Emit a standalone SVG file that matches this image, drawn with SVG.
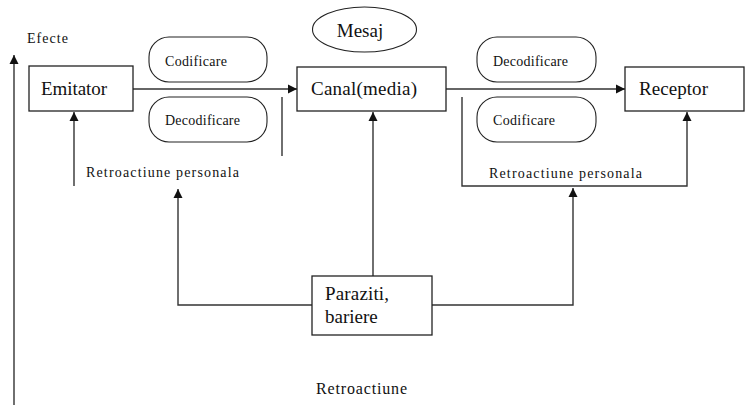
<svg xmlns="http://www.w3.org/2000/svg" width="753" height="405" viewBox="0 0 753 405">
<style>
.box{fill:#fff;stroke:#222;stroke-width:1.3}
.pill{fill:#fff;stroke:#222;stroke-width:1.1}
.ln{fill:none;stroke:#333;stroke-width:1.4}
.big{font-size:19px}
.sm{font-size:14px}
</style>
<defs>
<marker id="ah" markerWidth="10" markerHeight="10" refX="9" refY="5" orient="auto" markerUnits="userSpaceOnUse">
<path d="M0,0.5 L9,5 L0,9.5 Z" fill="#111"/>
</marker>
</defs>
<rect width="753" height="405" fill="#fff"/>
<g id="connectors">
<line class="ln" x1="14" y1="405" x2="14" y2="55" marker-end="url(#ah)"/>
<line class="ln" x1="133" y1="89" x2="297" y2="89" marker-end="url(#ah)"/>
<line class="ln" x1="282" y1="97" x2="282" y2="156"/>
<line class="ln" x1="74" y1="186" x2="74" y2="112" stroke-width="2.2" marker-end="url(#ah)"/>
<polyline class="ln" points="312,305 178,305 178,189" marker-end="url(#ah)"/>
<line class="ln" x1="373" y1="276" x2="373" y2="112" marker-end="url(#ah)"/>
<polyline class="ln" points="432,305 573,305 573,188" marker-end="url(#ah)"/>
<line class="ln" x1="446" y1="89" x2="625" y2="89" marker-end="url(#ah)"/>
<polyline class="ln" points="462,97 462,186 687,186 687,112" marker-end="url(#ah)"/>
</g>
<g font-family="Liberation Serif, Times New Roman, serif" fill="#111">
<g id="efecte"><text class="sm" x="27" y="43" textLength="41">Efecte</text></g>
<g id="mesaj">
<ellipse class="pill" cx="364.5" cy="29.5" rx="52" ry="22.5"/>
<text class="big" x="360" y="37" text-anchor="middle">Mesaj</text>
</g>
<g id="emitator">
<rect class="box" x="29" y="66" width="104" height="45"/>
<text class="big" x="41" y="95" textLength="66">Emitator</text>
</g>
<g id="codificare1">
<rect class="pill" x="149" y="37" width="118" height="45" rx="20" ry="20"/>
<text class="sm" x="165" y="66" textLength="62">Codificare</text>
</g>
<g id="decodificare1">
<rect class="pill" x="149" y="97" width="118" height="45" rx="20" ry="20"/>
<text class="sm" x="165" y="125" textLength="75">Decodificare</text>
</g>
<g id="canal">
<rect class="box" x="297" y="67" width="149" height="44"/>
<text class="big" x="311" y="95" textLength="106">Canal(media)</text>
</g>
<g id="decodificare2">
<rect class="pill" x="477" y="37" width="119" height="45" rx="20" ry="20"/>
<text class="sm" x="493" y="66" textLength="75">Decodificare</text>
</g>
<g id="codificare2">
<rect class="pill" x="477" y="97" width="119" height="45" rx="20" ry="20"/>
<text class="sm" x="493" y="125" textLength="62">Codificare</text>
</g>
<g id="receptor">
<rect class="box" x="625" y="67" width="119" height="44"/>
<text class="big" x="639" y="95" textLength="69">Receptor</text>
</g>
<g id="retro-left"><text class="sm" x="86" y="177" textLength="153">Retroactiune personala</text></g>
<g id="retro-right"><text class="sm" x="489" y="178" textLength="153">Retroactiune personala</text></g>
<g id="paraziti">
<rect class="box" x="312" y="276" width="120" height="59"/>
<text class="big" x="325" y="300" textLength="64">Paraziti,</text>
<text class="big" x="325" y="323">bariere</text>
</g>
<g id="retro-bottom"><text font-size="16" x="316" y="394" textLength="91">Retroactiune</text></g>
</g>
</svg>
